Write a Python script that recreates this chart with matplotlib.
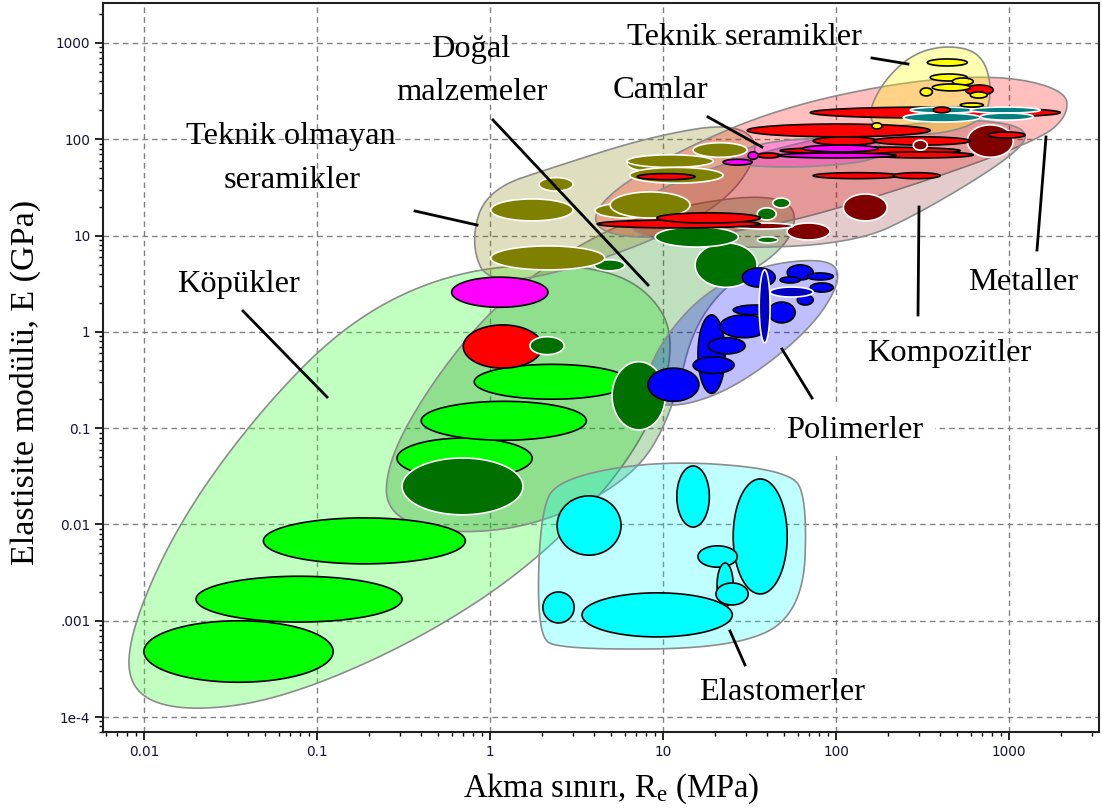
import numpy as np
import matplotlib
matplotlib.use("Agg")
import matplotlib.pyplot as plt
from matplotlib.patches import Polygon
from matplotlib.lines import Line2D

plt.rcParams['mathtext.fontset'] = 'custom'
plt.rcParams['mathtext.rm'] = 'Liberation Serif'
plt.rcParams['mathtext.it'] = 'Liberation Serif:italic'

# material bubbles: (Re low, Re high [MPa], E low, E high [GPa])
foams = [(0.010, 0.124, 2.3e-4, 1.0e-3), (0.020, 0.31, 9.7e-4, 2.9e-3),
         (0.049, 0.72, 3.9e-3, 0.0117), (0.29, 1.75, 0.030, 0.079),
         (0.40, 3.6, 0.075, 0.19), (0.81, 6.4, 0.20, 0.46)]
foam_glass = [(0.60, 2.16, 1.8, 3.7)]
foam_metal = [(0.70, 2.0, 0.42, 1.18)]
natural = [(0.31, 1.55, 0.0126, 0.049), (1.70, 2.68, 0.58, 0.89),
           (5.07, 10.3, 0.096, 0.49), (15.3, 34.9, 2.9, 8.4),
           (9.0, 27.2, 7.6, 12.3), (43, 54, 19.4, 24.5),
           (35, 45, 14.5, 19.4), (35, 46, 8.4, 9.7), (4.0, 6.0, 4.3, 5.6)]
ceramics_nt = [(1.92, 3.02, 29, 40), (1.01, 3.02, 14.2, 24), (1.01, 4.6, 4.4, 7.8),
               (6.2, 10.3, 47, 67), (4.04, 9.6, 15.2, 21.8), (4.94, 14.3, 15.2, 28.4),
               (6.2, 19.5, 51, 69), (14.9, 30.6, 65, 92), (6.4, 22.2, 35, 51)]
composites = [(572, 1054, 65, 141), (110, 197, 14.2, 27), (52, 92, 9, 13.5),
              (25.4, 56.4, 11.7, 13.5)]
metals = [(70.8, 1972, 166, 216), (30.6, 349, 106, 144), (73.6, 173, 87, 106),
          (164, 595, 87, 106), (47.4, 521, 70, 83), (157, 619, 64, 74),
          (34.9, 47.4, 64, 72), (73.6, 234, 39, 45), (213, 399, 39, 45),
          (7.08, 15.3, 38, 44), (4.16, 36.4, 12, 14.5), (9.2, 36.4, 13.5, 17.2),
          (557, 809, 288, 366), (757, 1236, 103, 119)]
metals_teal = [(244, 679, 151, 187), (268, 653, 187, 216),
               (595, 1510, 187, 216), (679, 1377, 158, 187)]
metals_top = [(364, 456, 188, 216)]
composites_top = [(279, 336, 77, 98)]
glasses = [(22.2, 32.7, 54, 62), (31, 35.4, 62, 74), (64, 175, 74, 87), (46, 222, 64, 72)]
ceramics_t = [(336, 572, 577, 682), (349, 572, 403, 476), (469, 619, 366, 433),
              (359, 595, 318, 375), (306, 359, 282, 341), (595, 746, 268, 310),
              (521, 708, 216, 238), (161, 184, 128, 148)]
polymers = [(8.18, 16.1, 0.19, 0.42), (15.9, 22.8, 0.23, 1.5), (14.9, 25.7, 0.37, 0.55),
            (18.2, 29.8, 0.59, 0.87), (21.3, 40.5, 0.87, 1.5), (25.4, 45.6, 1.5, 1.9),
            (40.5, 57.9, 1.24, 2.04), (59.6, 73.6, 1.9, 2.42), (28.7, 44.4, 2.92, 4.61),
            (52.1, 73.6, 3.46, 4.96), (47.4, 61.9, 3.22, 3.72), (67.9, 96.2, 3.46, 4.09),
            (70.8, 96.2, 2.59, 3.22)]
polymers_dark = [(41.5, 73.6, 2.3, 2.92), (35.9, 41.5, 0.77, 4.4)]
elastomers = [(2.44, 5.71, 0.0048, 0.0198), (12.0, 18.5, 0.0094, 0.0405),
              (25.4, 52.1, 0.0019, 0.0297), (15.9, 26.8, 0.0036, 0.006),
              (20.5, 25.4, 0.00139, 0.00398), (20.2, 31, 0.00146, 0.00247),
              (2.02, 3.06, 0.00095, 0.00199), (3.4, 25.1, 0.00068, 0.00195)]

# family envelopes: corner points (Re [MPa], E [GPa])
env_foams = [(0.0081, 1.9e-4), (0.0083, 8.0e-4), (0.0161, 0.0111), (0.047, 0.155),
             (0.155, 1.33), (0.59, 4.19), (2.54, 5.3), (7.4, 3.46), (12.5, 0.82),
             (7.4, 0.059), (1.95, 4.3e-3), (0.39, 6.3e-4), (0.061, 1.5e-4), (0.0161, 1.13e-4)]
env_natural = [(0.247, 0.0126), (0.257, 0.0468), (0.45, 0.281), (1.0, 1.69), (2.54, 6.3),
               (8.4, 18.5), (56.4, 29.7), (58, 7.98), (16.4, 2.14), (11.0, 0.122),
               (6.44, 0.029), (1.95, 9.9e-3), (0.59, 7.8e-3)]
env_ceramics_nt = [(0.77, 7.98), (0.94, 29.7), (2.54, 54), (8.4, 106), (26, 150),
                   (38, 80), (21.3, 18.5), (4.3, 5.3), (1.0, 2.92)]
env_metals = [(3.78, 12.0), (4.62, 26.4), (12.5, 77.5), (47.4, 211), (234, 394), (887, 466),
              (2110, 325), (2190, 179), (1510, 98.4), (234, 29.7), (36.4, 11.4), (7.36, 9.0)]
env_composites = [(5.28, 12.9), (9.6, 33.5), (61.9, 98.4), (456, 166), (1236, 141),
                  (1236, 81.3), (349, 19.4), (120, 7.8), (12.5, 7.4)]
env_glasses = [(21.3, 55), (35, 95), (120, 106), (185, 92), (180, 60), (60, 50)]
env_ceramics_t = [(149, 158), (180, 366), (268, 750), (427, 953), (679, 807), (798, 366),
                  (727, 158), (399, 111), (205, 116)]
env_polymers = [(7.36, 0.196), (9.0, 0.65), (16.4, 2.42), (36.4, 4.96), (92, 5.85),
                (108, 3.46), (70.8, 1.05), (27.9, 0.281), (12.5, 0.162)]
env_elastomers = [(1.87, 7.1e-4), (1.95, 0.0142), (2.54, 0.0304), (10, 0.0468),
                  (54.2, 0.0368), (67.9, 0.0179), (64.4, 1.29e-3), (27.9, 5.2e-4), (2.54, 5.0e-4)]

x_ticks = [0.01, 0.1, 1, 10, 100, 1000]
x_labels = ['0.01', '0.1', '1', '10', '100', '1000']
y_ticks = [1e-4, 1e-3, 1e-2, 0.1, 1, 10, 100, 1000]
y_labels = ['1e-4', '.001', '0.01', '0.1', '1', '10', '100', '1000']

W, H = 1102, 811
fig = plt.figure(figsize=(W / 100, H / 100), dpi=100)
ax = fig.add_axes([103 / W, 1 - 732 / H, (1099 - 103) / W, (732 - 3) / H])
ax.set_xscale('log')
ax.set_yscale('log')
ax.set_xlim(0.0058, 3300)
ax.set_ylim(7.0e-5, 2600)


def bubble(r, face, edge, lw=1.2, z=3):
    # ellipse in log-log space spanning the given ranges
    lx = np.log10(r[:2])
    ly = np.log10(r[2:])
    t = np.linspace(0, 2 * np.pi, 120)
    cx, rx = lx.mean(), (lx[1] - lx[0]) / 2
    cy, ry = ly.mean(), (ly[1] - ly[0]) / 2
    pts = np.column_stack([10 ** (cx + rx * np.cos(t)), 10 ** (cy + ry * np.sin(t))])
    ax.add_patch(Polygon(pts, closed=True, facecolor=face, edgecolor=edge, lw=lw, zorder=z))


def envelope(pts, color, alpha=0.25):
    # rounded hull: Chaikin corner cutting in log space
    p = np.log10(np.array(pts, dtype=float))
    for _ in range(4):
        q = np.roll(p, -1, axis=0)
        a, b = 0.75 * p + 0.25 * q, 0.25 * p + 0.75 * q
        p = np.empty((2 * len(p), 2))
        p[0::2], p[1::2] = a, b
    ax.add_patch(Polygon(10 ** p, closed=True, facecolor=matplotlib.colors.to_rgba(color, alpha),
                         edgecolor='#8c8c8c', lw=1.2, zorder=2))


envelope(env_foams, '#40ff40', 0.33)
envelope(env_natural, '#008000', 0.25)
envelope(env_ceramics_nt, '#808000', 0.25)
envelope(env_metals, '#ff0000', 0.25)
envelope(env_composites, '#800000', 0.2)
envelope(env_glasses, '#ff00ff', 0.25)
envelope(env_ceramics_t, '#ffff00', 0.3)
envelope(env_polymers, '#0000ff', 0.25)
envelope(env_elastomers, '#00ffff', 0.25)

for r in foams:
    bubble(r, '#00ff00', 'black')
for r in foam_glass:
    bubble(r, '#ff00ff', 'black')
for r in foam_metal:
    bubble(r, '#ff0000', 'black')
for r in natural:
    bubble(r, '#007000', 'white')
for r in ceramics_nt:
    bubble(r, '#808000', 'white')
for r in composites:
    bubble(r, '#800000', 'white')
for r in metals:
    bubble(r, '#ff0000', 'black')
for r in metals_teal:
    bubble(r, '#008080', 'white')
for r in metals_top:
    bubble(r, '#ff0000', 'black')
for r in composites_top:
    bubble(r, '#800000', 'white')
for r in glasses:
    bubble(r, '#ff00ff', 'black')
for r in ceramics_t:
    bubble(r, '#ffff00', 'black')
for r in polymers:
    bubble(r, '#0000ff', 'black')
for r in polymers_dark:
    bubble(r, '#0000c0', 'white')
for r in elastomers:
    bubble(r, '#00ffff', 'black')

ax.set_xticks(x_ticks)
ax.set_xticklabels(x_labels)
ax.set_yticks(y_ticks)
ax.set_yticklabels(y_labels)
ax.tick_params(which='major', direction='out', length=6, width=1.2, labelsize=9.8,
               labelcolor='#14143c', pad=3)
ax.tick_params(which='minor', direction='out', length=3, width=1)
ax.set_axisbelow(True)
ax.grid(True, which='major', color='#808080', ls=(0, (4, 3)), lw=1)
for s in ax.spines.values():
    s.set_linewidth(1.5)
    s.set_color('#202020')

serif = 'Liberation Serif'


def px(x, y):
    return x / W, 1 - y / H


def label(x, y, s, **kw):
    fig.text(*px(x, y), s, family=serif, fontsize=23.4, ha='center', va='baseline', **kw)


label(744, 45, 'Teknik seramikler')
label(471, 57, 'Doğal')
label(472, 100, 'malzemeler')
label(660, 98, 'Camlar')
label(291, 144, 'Teknik olmayan')
label(292, 188, 'seramikler')
label(238, 292, 'Köpükler')
label(1023, 290, 'Metaller')
label(949, 361, 'Kompozitler')
label(855, 438, 'Polimerler', bbox=dict(facecolor='white', edgecolor='none', pad=8))
label(782, 700, 'Elastomerler')

leaders = [((872, 58), (908, 64)), ((708, 117), (762, 147)), ((493, 120), (648, 285)),
           ((415, 211), (477, 225)), ((243, 311), (327, 397)), ((1046, 137), (1037, 250)),
           ((919, 207), (918, 315)), ((782, 349), (812, 398)), ((730, 631), (745, 665))]
for a, b in leaders:
    (x0, y0), (x1, y1) = px(*a), px(*b)
    fig.add_artist(Line2D([x0, x1], [y0, y1], color='black', lw=2, zorder=10))

fig.text(*px(611, 797), 'Akma sınırı, R$_\\mathrm{e}$ (MPa)', family=serif, fontsize=23.5,
         ha='center', va='baseline')
fig.text(*px(25, 382), 'Elastisite modülü, E (GPa)', family=serif, fontsize=24.5,
         ha='center', va='center', rotation=90)

fig.savefig('out.png', dpi=100, facecolor='white')
